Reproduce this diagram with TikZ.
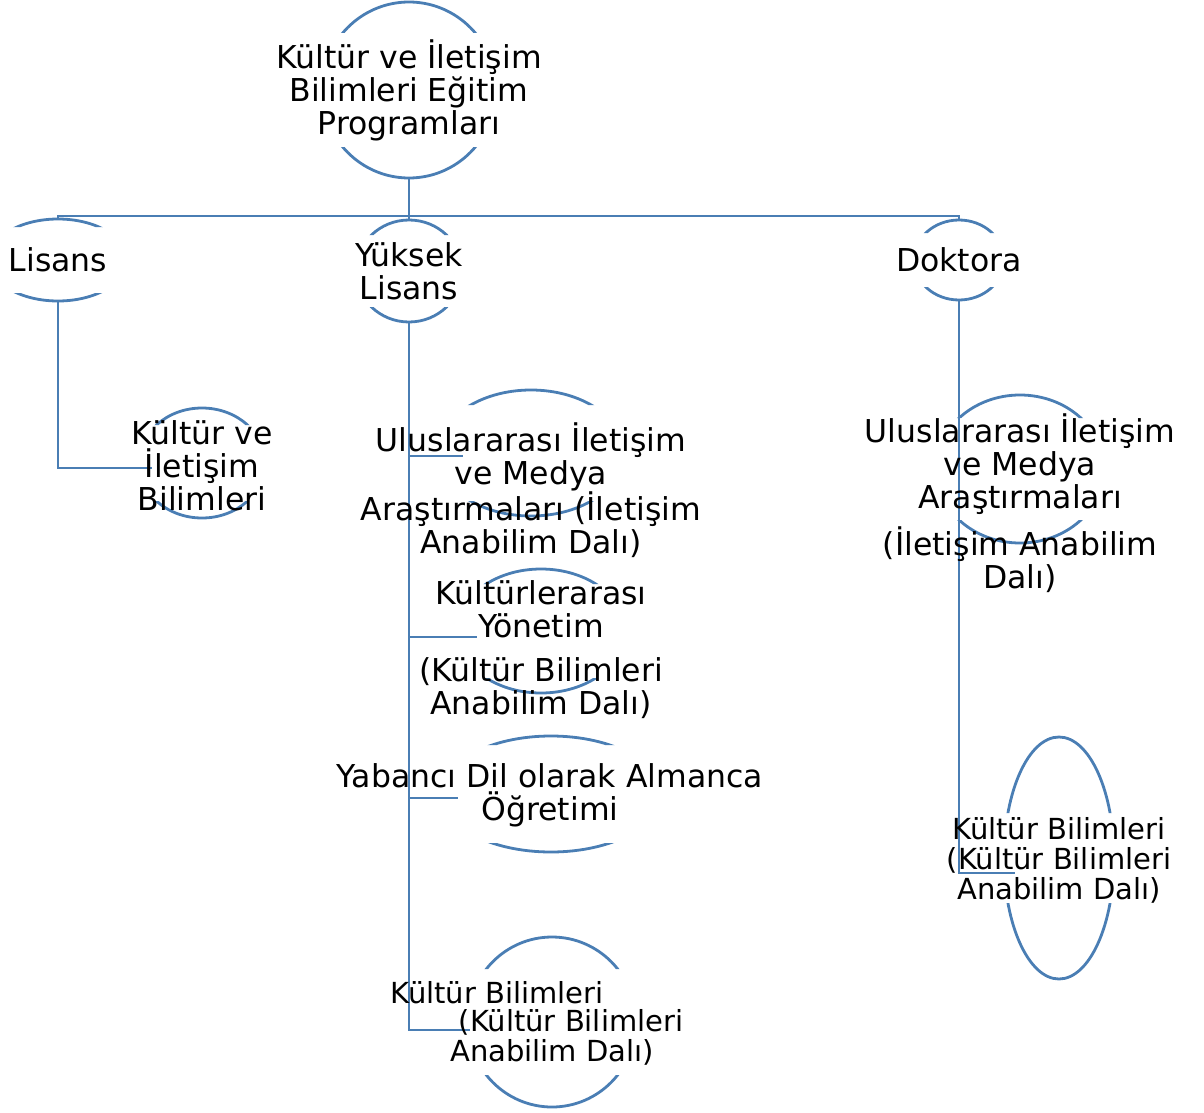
\documentclass[tikz,border=0pt]{standalone}
\usepackage{fontspec}
\setmainfont{DejaVu Sans}
\usetikzlibrary{shapes.geometric,calc}
\definecolor{lc}{RGB}{74,126,180}
\tikzset{
 lbl/.style={align=center, font=\fontsize{31.5}{33}\selectfont, inner sep=0pt},
 lbls/.style={align=center, font=\fontsize{29}{30}\selectfont, inner sep=0pt},
 eshape/.style={ellipse, draw=none, inner sep=0pt, outer sep=0pt},
 arcline/.style={draw=lc, line width=2.8pt},
 conn/.style={draw=lc, line width=2.8pt},
}
\newcommand\ellnode[6]{%
 \node[eshape, minimum width=2*#4, minimum height=2*#5] (#1) at (#2,#3) {};
 \begin{scope}
 \clip (#2-#4-5,#3-#5-5) rectangle (#2+#4+5,#3-#6) (#2-#4-5,#3+#6) rectangle (#2+#4+5,#3+#5+5);
 \draw[arcline] (#1.center) ellipse[x radius=#4, y radius=#5];
 \end{scope}}
\begin{document}
\begin{tikzpicture}[x=1pt,y=-1pt]
\useasboundingbox (0,0) rectangle (1204,1113);
% ellipses
\ellnode{eTop}{409}{90}{87}{88}{57}
\ellnode{eLis}{58}{260}{69}{41}{33}
\ellnode{eYuk}{409}{271}{53}{51}{36}
\ellnode{eDok}{959}{260}{45}{40}{27}
\ellnode{eKIB}{202}{463}{63}{55}{38}
\ellnode{eUM}{531}{453}{93}{63}{48}
\ellnode{eKK}{541}{631}{84}{62}{47}
\ellnode{eYA}{551}{794}{110}{58}{49}
\ellnode{eKB}{552}{1022}{84}{85}{53}
\ellnode{eUR}{1020}{469}{84}{74}{51}
\ellnode{eKBR}{1059}{858}{55}{121}{45}
% connectors
\coordinate (bus) at (409,216);
\path ([shift={(13,5)}]eKIB.west) coordinate (cKIB);
\path ([shift={(25,3)}]eUM.west) coordinate (cUM);
\path ([shift={(20,6)}]eKK.west) coordinate (cKK);
\path ([shift={(17,4)}]eYA.west) coordinate (cYA);
\path ([shift={(2,8)}]eKB.west) coordinate (cKB);
\path ([shift={(11,15)}]eKBR.west) coordinate (cKBR);
\draw[conn] (eTop.south) -- (bus);
\draw[conn] (eLis.north) |- (bus) -| (eDok.north);
\draw[conn] (bus) -- (eYuk.north);
\draw[conn] (eLis.south) |- (cKIB);
\draw[conn] (eYuk.south) |- (cKB);
\draw[conn] (eYuk.south |- cUM) -- (cUM);
\draw[conn] (eYuk.south |- cKK) -- (cKK);
\draw[conn] (eYuk.south |- cYA) -- (cYA);
\draw[conn] (eDok.south) |- (cKBR);
% texts
\node[lbl] (tTop) at (409,90) {Kültür ve İletişim\\Bilimleri Eğitim\\Programları};
\node[lbl] (tLis) at (58,260) {Lisans};
\node[lbl] (tYuk) at (409,271) {Yüksek\\Lisans};
\node[lbl] (tDok) at (959,260) {Doktora};
\node[lbl] (tKIB) at (202,466) {Kültür ve\\İletişim\\Bilimleri};
\node[lbl] (tUM) at (531,490) {Uluslararası İletişim\\ve Medya\\Araştırmaları (İletişim\\Anabilim Dalı)};
\node[lbl] (tKK) at (541,650) {Kültürlerarası\\Yönetim\\[11pt](Kültür Bilimleri\\Anabilim Dalı)};
\node[lbl] (tYA) at (550,795) {Yabancı Dil olarak Almanca\\Öğretimi};
\node[lbls] (tKB1) at (497,993) {Kültür Bilimleri};
\node[lbls] (tKB2) at (571,1022) {(Kültür Bilimleri};
\node[lbls] (tKB3) at (552,1052) {Anabilim Dalı)};
\node[lbl] (tUR) at (1020,503) {Uluslararası İletişim\\ve Medya\\Araştırmaları\\[11pt](İletişim Anabilim\\Dalı)};
\node[lbls] (tKBR) at (1059,860) {Kültür Bilimleri\\(Kültür Bilimleri\\Anabilim Dalı)};
\end{tikzpicture}
\end{document}
